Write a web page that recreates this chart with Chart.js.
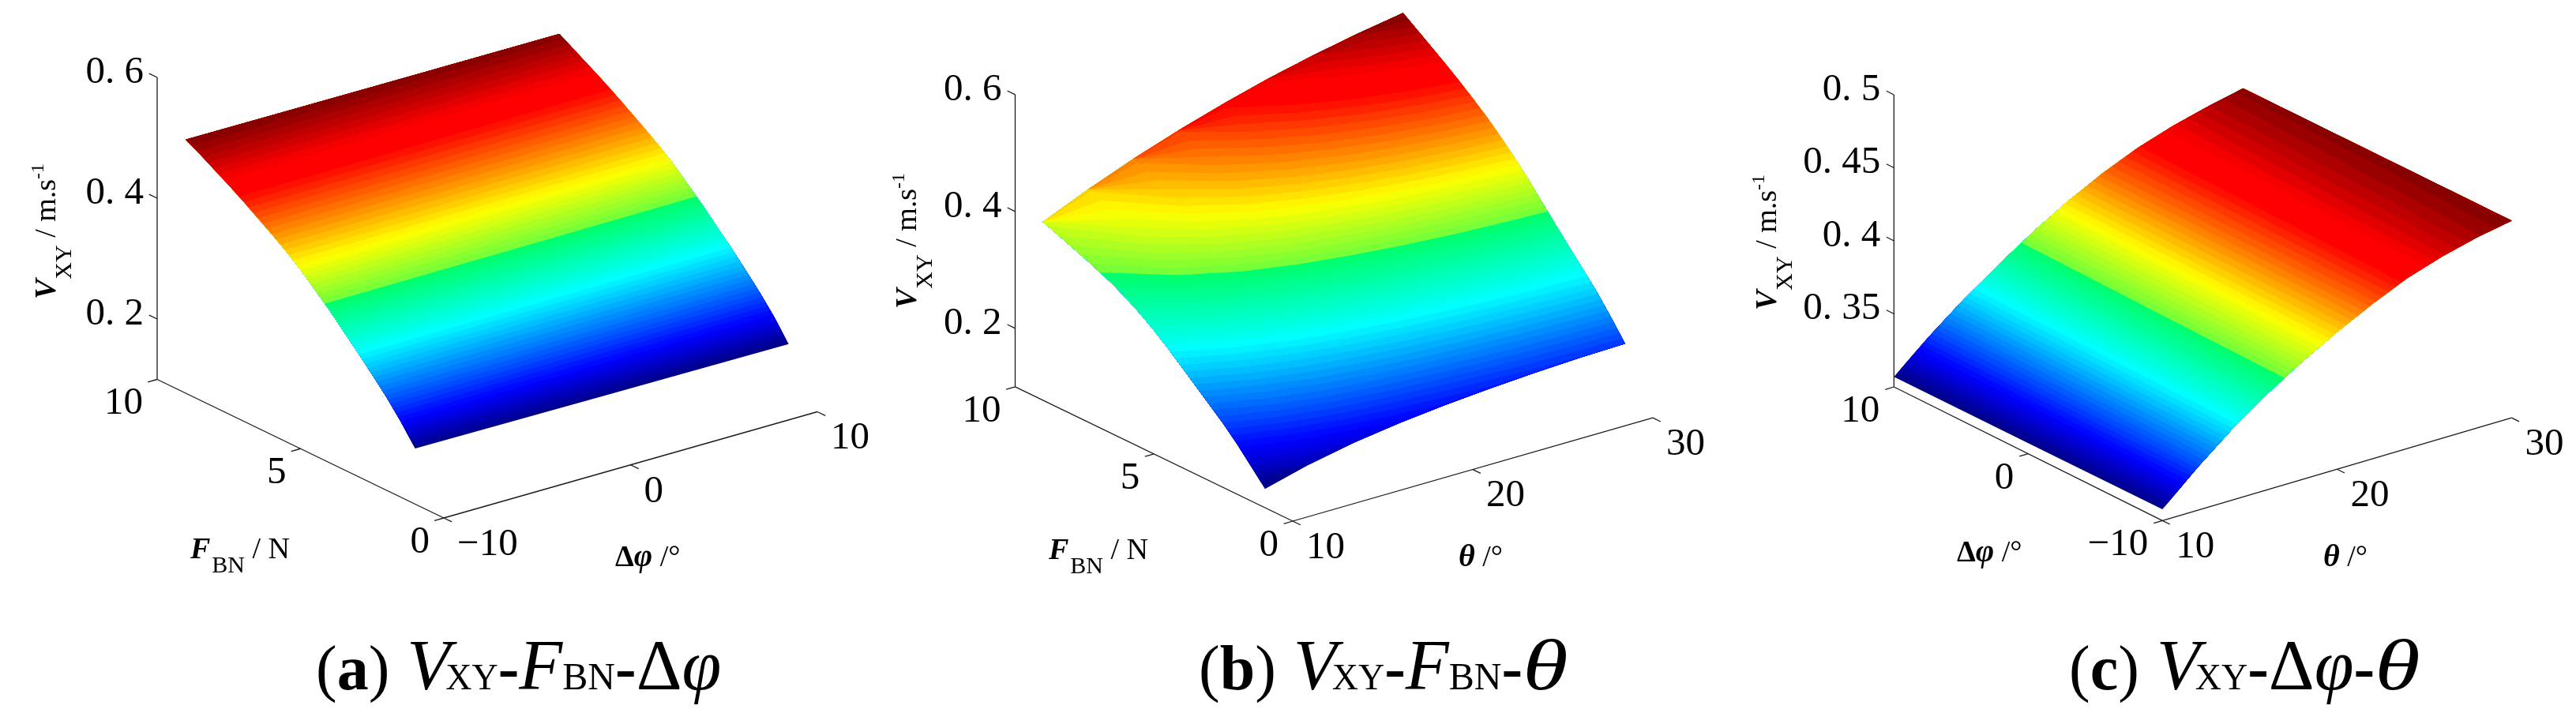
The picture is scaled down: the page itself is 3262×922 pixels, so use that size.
<!DOCTYPE html>
<html>
<head>
<meta charset="utf-8">
<title>VXY response surfaces</title>
<script src="https://cdn.jsdelivr.net/npm/chart.js@4/dist/chart.umd.min.js"></script>
<style>
    html, body { margin: 0; padding: 0; background: #fff; }
    body { position: relative; width: 3262px; height: 922px; overflow: hidden; }
    canvas { position: absolute; top: 0; }
</style>
</head>
<body>
<canvas id="chart-a" width="1120" height="922" style="left:0"></canvas>
<canvas id="chart-b" width="1080" height="922" style="left:1090px"></canvas>
<canvas id="chart-c" width="1122" height="922" style="left:2140px"></canvas>
<script>
// --- DATA ---
// (a) VXY against FBN, one column per delta-phi
const fbnValues = [1, 1.5, 2, 2.5, 3, 3.5, 4, 4.5, 5, 5.5, 6, 6.5, 7, 7.5, 8, 8.5, 9];
const dphiColumnsA = [-10, 0, 10];
const vxyA_dphiM10 = [0.192, 0.225, 0.254, 0.280, 0.305, 0.329, 0.353, 0.375, 0.3965, 0.415, 0.432, 0.448, 0.464, 0.479, 0.493, 0.507, 0.520];
const vxyA_dphi0 = [0.1905, 0.2235, 0.2525, 0.2785, 0.3035, 0.3275, 0.3515, 0.3735, 0.395, 0.414, 0.431, 0.447, 0.463, 0.478, 0.492, 0.506, 0.5195];
const vxyA_dphiP10 = [0.189, 0.222, 0.251, 0.277, 0.302, 0.326, 0.350, 0.372, 0.394, 0.413, 0.430, 0.446, 0.462, 0.477, 0.491, 0.505, 0.519];

// (b) VXY against FBN, one column per theta
const thetaColumnsB = [10, 12.5, 15, 17.5, 20, 22.5, 25, 27.5, 30];
const vxyB_theta10 = [0.132, 0.159, 0.1855, 0.209, 0.230, 0.251, 0.272, 0.2925, 0.3115, 0.3285, 0.3435, 0.3565, 0.3675, 0.3775, 0.3865, 0.396, 0.405];
const vxyB_theta12 = [0.1525, 0.1807, 0.2080, 0.2320, 0.2540, 0.2761, 0.2982, 0.3199, 0.3398, 0.3577, 0.3734, 0.3871, 0.3989, 0.4096, 0.4192, 0.4291, 0.4385];
const vxyB_theta15 = [0.168, 0.1973, 0.2252, 0.2498, 0.2728, 0.2959, 0.3191, 0.3418, 0.3628, 0.3815, 0.3982, 0.4127, 0.4255, 0.4371, 0.4476, 0.4583, 0.4685];
const vxyB_theta17 = [0.179, 0.2092, 0.2377, 0.2629, 0.2868, 0.3108, 0.3350, 0.3589, 0.3808, 0.4006, 0.4182, 0.4337, 0.4476, 0.4604, 0.4720, 0.4837, 0.495];
const vxyB_theta20 = [0.1872, 0.2181, 0.2473, 0.2731, 0.2977, 0.3226, 0.3477, 0.3726, 0.3955, 0.4162, 0.4349, 0.4514, 0.4665, 0.4804, 0.4932, 0.506, 0.5185];
const vxyB_theta22 = [0.1936, 0.2252, 0.2549, 0.2812, 0.3065, 0.3322, 0.3582, 0.3840, 0.4078, 0.4295, 0.4491, 0.4666, 0.4828, 0.4979, 0.5118, 0.5258, 0.5395];
const vxyB_theta25 = [0.1986, 0.2307, 0.2610, 0.2877, 0.3137, 0.3400, 0.3668, 0.3934, 0.4180, 0.4405, 0.4610, 0.4794, 0.4965, 0.5126, 0.5276, 0.5427, 0.5575];
const vxyB_theta27 = [0.2022, 0.2348, 0.2654, 0.2926, 0.3191, 0.3460, 0.3734, 0.4008, 0.4261, 0.4494, 0.4706, 0.4898, 0.5079, 0.5249, 0.5409, 0.5569, 0.5728];
const vxyB_theta30 = [0.204, 0.237, 0.268, 0.2955, 0.3225, 0.350, 0.378, 0.406, 0.432, 0.456, 0.478, 0.498, 0.517, 0.535, 0.552, 0.569, 0.586];

// (c) VXY against theta, one column per delta-phi
const thetaValues = [10, 12, 14, 16, 18, 20, 22, 24, 26, 28, 30];
const dphiColumnsC = [-10, 0, 10];
const vxyC_dphiM10 = [0.3077, 0.3292, 0.3486, 0.3655, 0.3805, 0.3938, 0.4058, 0.4166, 0.4245, 0.4305, 0.435];
const vxyC_dphi0 = [0.3073, 0.3282, 0.3473, 0.3641, 0.3795, 0.3931, 0.4051, 0.4156, 0.4236, 0.4296, 0.4345];
const vxyC_dphiP10 = [0.3069, 0.3273, 0.346, 0.3627, 0.3784, 0.3924, 0.4045, 0.4147, 0.4225, 0.4288, 0.434];

// Tick labels
const fbnTicks = [0, 5, 10];
const dphiTicks = [-10, 0, 10];
const dphiTickLabels = ['\u221210', '0', '10'];
const thetaTicks = [10, 20, 30];
const zTicksAB = [0.2, 0.4, 0.6];
const zLabelsAB = ['0. 2', '0. 4', '0. 6'];
const zTicksC = [0.35, 0.4, 0.45, 0.5];
const zLabelsC = ['0. 35', '0. 4', '0. 45', '0. 5'];

// Colormap: jet with the step just above green that the reference has
const colormapStops = [
    [0, 0, 0, 130], [0.11, 0, 0, 255], [0.35, 0, 255, 255], [0.51, 0, 255, 110],
    [0.515, 110, 255, 60], [0.64, 255, 255, 0], [0.85, 255, 0, 0], [0.89, 255, 0, 0], [1, 128, 0, 0]
];
const colorLevels = 64;

const SERIF = '"Liberation Serif"';
const TICK_FONT = '49px ' + SERIF;

function colormap(t) {
    for (let i = 1; i < colormapStops.length; i++) {
        const a = colormapStops[i - 1], b = colormapStops[i];
        if (t <= b[0]) {
            const k = (t - a[0]) / (b[0] - a[0]);
            const c = [1, 2, 3].map(n => Math.round(a[n] + (b[n] - a[n]) * k));
            return `rgb(${c[0]},${c[1]},${c[2]})`;
        }
    }
    return 'rgb(128,0,0)';
}

// 3D box to page pixels. Left axis runs from the front corner to the back one, right axis from the front corner outwards.
function project(view, left, right, z) {
    const l = (left - view.leftRange[0]) / (view.leftRange[1] - view.leftRange[0]);
    const r = (right - view.rightRange[0]) / (view.rightRange[1] - view.rightRange[0]);
    return {
        x: view.origin[0] + view.u[0] * l + view.v[0] * r,
        y: view.origin[1] + view.u[1] * l + view.v[1] * r - (z - view.zRange[0]) * view.zPx
    };
}

// Row value at which one column of the surface reaches a level
function rowAtLevel(rows, zs, level) {
    if (level <= zs[0]) return rows[0];
    const last = zs.length - 1;
    if (level >= zs[last]) return rows[last];
    for (let i = 1; i <= last; i++) {
        if (level <= zs[i]) {
            return rows[i - 1] + (rows[i] - rows[i - 1]) * (level - zs[i - 1]) / (zs[i] - zs[i - 1]);
        }
    }
    return rows[last];
}

// Colour bands, painted from the lowest level up: each one covers from its level line to the top of the surface
function surfaceDatasets(view, rows, colValues, cols) {
    const all = cols.flat();
    const zMin = Math.min(...all), zMax = Math.max(...all);
    const point = (row, col, z) => view.rowsOnLeft ? project(view, row, col, z) : project(view, col, row, z);
    const top = rows.length - 1;
    const sideAbove = (j, level) => rows
        .map((r, i) => ({ r, z: cols[j][i] }))
        .filter(p => p.z > level)
        .map(p => point(p.r, colValues[j], p.z));
    const sets = [];
    for (let i = 0; i < colorLevels; i++) {
        const level = zMin + (zMax - zMin) * i / colorLevels;
        const line = colValues.map((c, j) => {
            const zs = cols[j];
            const z = Math.min(Math.max(level, zs[0]), zs[top]);
            return point(rowAtLevel(rows, zs, level), c, z);
        });
        const edge = colValues.map((c, j) => point(rows[top], c, cols[j][top])).reverse();
        const data = line.concat(
            sideAbove(colValues.length - 1, level),
            edge,
            sideAbove(0, level).reverse(),
            [line[0]]
        );
        const color = colormap((i + 0.5) / colorLevels);
        sets.push({
            data, showLine: true, fill: 'shape', backgroundColor: color, borderColor: color,
            borderWidth: 0, pointRadius: 0, order: -i
        });
    }
    return sets;
}

function lineDataset(a, b) {
    return {
        data: [a, b], showLine: true, fill: false, borderColor: '#1a1a1a', borderWidth: 1.3,
        pointRadius: 0, order: 10
    };
}

// Axis box lines and ticks
function axisDatasets(view, leftTicks, rightTicks, zTicks) {
    const [l0, l1] = view.leftRange, [r0, r1] = view.rightRange, [z0, z1] = view.zRange;
    const tickL = (l1 - l0) * 0.028, tickR = (r1 - r0) * 0.025;
    const sets = [
        lineDataset(project(view, l0, r0, z0), project(view, l1, r0, z0)),
        lineDataset(project(view, l0, r0, z0), project(view, l0, r1, z0)),
        lineDataset(project(view, l1, r0, z0), project(view, l1, r0, z1))
    ];
    leftTicks.forEach(t => sets.push(lineDataset(project(view, t, r0, z0), project(view, t, r0 - tickR, z0))));
    rightTicks.forEach(t => sets.push(lineDataset(project(view, l0, t, z0), project(view, l0 - tickL, t, z0))));
    zTicks.forEach(t => sets.push(lineDataset(project(view, l1, r0, t), project(view, l1 + tickL, r0, t))));
    return sets;
}

// Text made of runs with their own font, baseline shift and horizontal stretch
function drawRuns(ctx, runs, x, y, rotation) {
    ctx.save();
    ctx.translate(x, y);
    if (rotation) ctx.rotate(rotation);
    ctx.textAlign = 'left';
    ctx.textBaseline = 'alphabetic';
    ctx.fillStyle = '#000';
    let cx = 0;
    runs.forEach(run => {
        ctx.font = run.f;
        const sx = run.sx || 1;
        cx += run.dx || 0;
        ctx.save();
        ctx.translate(cx, run.dy || 0);
        ctx.scale(sx, 1);
        ctx.fillText(run.t, 0, 0);
        ctx.restore();
        cx += ctx.measureText(run.t).width * sx + (run.after || 0);
    });
    ctx.restore();
}

function vxyTitle() {
    return [
        { t: 'V', f: `italic bold 38px ${SERIF}` },
        { t: 'XY', f: `30px ${SERIF}`, dy: 20 },
        { t: ' / m.s', f: `38px ${SERIF}` },
        { t: '-1', f: `24px ${SERIF}`, dy: -15 }
    ];
}

function fbnTitle() {
    return [
        { t: 'F', f: `italic bold 38px ${SERIF}` },
        { t: 'BN', f: `30px ${SERIF}`, dy: 18, dx: 2 },
        { t: ' / N', f: `38px ${SERIF}` }
    ];
}

function dphiTitle() {
    return [
        { t: '\u0394', f: `bold 38px ${SERIF}` },
        { t: '\u03c6', f: `italic bold 40px ${SERIF}` },
        { t: ' /\u00b0', f: `38px ${SERIF}` }
    ];
}

function thetaTitle() {
    return [
        { t: '\u03b8', f: `italic bold 40px ${SERIF}` },
        { t: ' /\u00b0', f: `38px ${SERIF}` }
    ];
}

function captionRuns(letter, parts) {
    const runs = [
        { t: '(', f: `80px ${SERIF}` },
        { t: letter, f: `bold 80px ${SERIF}` },
        { t: ')', f: `80px ${SERIF}`, after: 22 },
        { t: 'V', f: `italic 90px ${SERIF}` },
        { t: 'XY', f: `46px ${SERIF}`, dx: -6 },
        { t: '-', f: `bold 80px ${SERIF}` }
    ];
    parts.forEach((part, i) => {
        if (i > 0) runs.push({ t: '-', f: `bold 80px ${SERIF}` });
        part.forEach(r => runs.push(r));
    });
    return runs;
}

const fbnCaption = [{ t: 'F', f: `italic 90px ${SERIF}` }, { t: 'BN', f: `48px ${SERIF}` }];
const dphiCaption = [{ t: '\u0394', f: `90px ${SERIF}` }, { t: '\u03c6', f: `italic 90px ${SERIF}` }];
const thetaCaption = [{ t: '\u03b8', f: `italic 90px ${SERIF}`, sx: 1.3 }];

// Tick labels and titles, placed through the chart's own scales
const textPlugin = {
    id: 'panelText',
    afterDraw(chart, args, opts) {
        const { ctx, scales } = chart;
        const view = opts.view;
        const px = p => ({ x: scales.x.getPixelForValue(p.x), y: scales.y.getPixelForValue(p.y) });
        const [l0, l1] = view.leftRange, [r0] = view.rightRange, [z0] = view.zRange;

        ctx.save();
        ctx.font = TICK_FONT;
        ctx.fillStyle = '#000';
        ctx.textBaseline = 'middle';
        ctx.textAlign = 'right';
        opts.zTicks.forEach((t, i) => {
            const p = px(project(view, l1, r0, t));
            ctx.fillText(opts.zLabels[i], p.x - 17, p.y - 6);
        });
        opts.leftTicks.forEach((t, i) => {
            const p = px(project(view, t, r0, z0));
            ctx.fillText(opts.leftLabels[i], p.x - 18, p.y + 31);
        });
        ctx.textAlign = 'left';
        opts.rightTicks.forEach((t, i) => {
            const p = px(project(view, l0, t, z0));
            ctx.fillText(opts.rightLabels[i], p.x + 17, p.y + 34);
        });
        ctx.restore();

        const place = (runs, pos, rotation) => {
            const p = px({ x: pos[0], y: pos[1] });
            drawRuns(ctx, runs, p.x, p.y, rotation);
        };
        place(vxyTitle(), opts.zTitleAt, -Math.PI / 2);
        place(opts.leftTitle, opts.leftTitleAt);
        place(opts.rightTitle, opts.rightTitleAt);
        place(opts.caption, opts.captionAt);
    }
};

function makePanel(canvasId, pageLeft, pageWidth, view, surface, text) {
    const datasets = axisDatasets(view, text.leftTicks, text.rightTicks, text.zTicks)
        .concat(surfaceDatasets(view, surface.rows, surface.colValues, surface.cols));
    return new Chart(document.getElementById(canvasId), {
        type: 'scatter',
        data: { datasets },
        options: {
            responsive: false,
            animation: false,
            events: [],
            layout: { padding: 0 },
            clip: false,
            scales: {
                x: { type: 'linear', display: false, min: pageLeft, max: pageLeft + pageWidth },
                y: { type: 'linear', display: false, min: 0, max: 922, reverse: true }
            },
            plugins: {
                legend: { display: false },
                tooltip: { enabled: false },
                panelText: Object.assign({ view }, text)
            }
        },
        plugins: [textPlugin]
    });
}

const fbnLabels = fbnTicks.map(String);
const thetaLabels = thetaTicks.map(String);

makePanel('chart-a', 0, 1120, {
    origin: [562, 656], u: [-363, -175.5], v: [473, -134.5], zPx: 765,
    leftRange: [0, 10], rightRange: [-10, 10], zRange: [0.1, 0.6], rowsOnLeft: true
}, {
    rows: fbnValues, colValues: dphiColumnsA, cols: [vxyA_dphiM10, vxyA_dphi0, vxyA_dphiP10]
}, {
    leftTicks: fbnTicks, leftLabels: fbnLabels, rightTicks: dphiTicks, rightLabels: dphiTickLabels,
    zTicks: zTicksAB, zLabels: zLabelsAB,
    leftTitle: fbnTitle(), leftTitleAt: [241, 707],
    rightTitle: dphiTitle(), rightTitleAt: [779, 717],
    zTitleAt: [70, 379],
    caption: captionRuns('a', [fbnCaption, dphiCaption]), captionAt: [400, 873]
});

makePanel('chart-b', 1090, 1080, {
    origin: [1637, 660], u: [-351.5, -170.2], v: [456, -130.8], zPx: 740,
    leftRange: [0, 10], rightRange: [10, 30], zRange: [0.1, 0.6], rowsOnLeft: true
}, {
    rows: fbnValues, colValues: thetaColumnsB,
    cols: [vxyB_theta10, vxyB_theta12, vxyB_theta15, vxyB_theta17, vxyB_theta20, vxyB_theta22, vxyB_theta25, vxyB_theta27, vxyB_theta30]
}, {
    leftTicks: fbnTicks, leftLabels: fbnLabels, rightTicks: thetaTicks, rightLabels: thetaLabels,
    zTicks: zTicksAB, zLabels: zLabelsAB,
    leftTitle: fbnTitle(), leftTitleAt: [1328, 708],
    rightTitle: thetaTitle(), rightTitleAt: [1847, 717],
    zTitleAt: [1160, 391],
    caption: captionRuns('b', [fbnCaption, thetaCaption]), captionAt: [1518, 873]
});

makePanel('chart-c', 2140, 1122, {
    origin: [2738.3, 659.3], u: [-340, -169.3], v: [442.2, -130.1], zPx: 1850,
    leftRange: [-10, 10], rightRange: [10, 30], zRange: [0.3, 0.5], rowsOnLeft: false
}, {
    rows: thetaValues, colValues: dphiColumnsC, cols: [vxyC_dphiM10, vxyC_dphi0, vxyC_dphiP10]
}, {
    leftTicks: dphiTicks, leftLabels: dphiTickLabels, rightTicks: thetaTicks, rightLabels: thetaLabels,
    zTicks: zTicksC, zLabels: zLabelsC,
    leftTitle: dphiTitle(), leftTitleAt: [2478, 711],
    rightTitle: thetaTitle(), rightTitleAt: [2942, 717],
    zTitleAt: [2249, 393],
    caption: captionRuns('c', [dphiCaption, thetaCaption]), captionAt: [2620, 873]
});
</script>
</body>
</html>
